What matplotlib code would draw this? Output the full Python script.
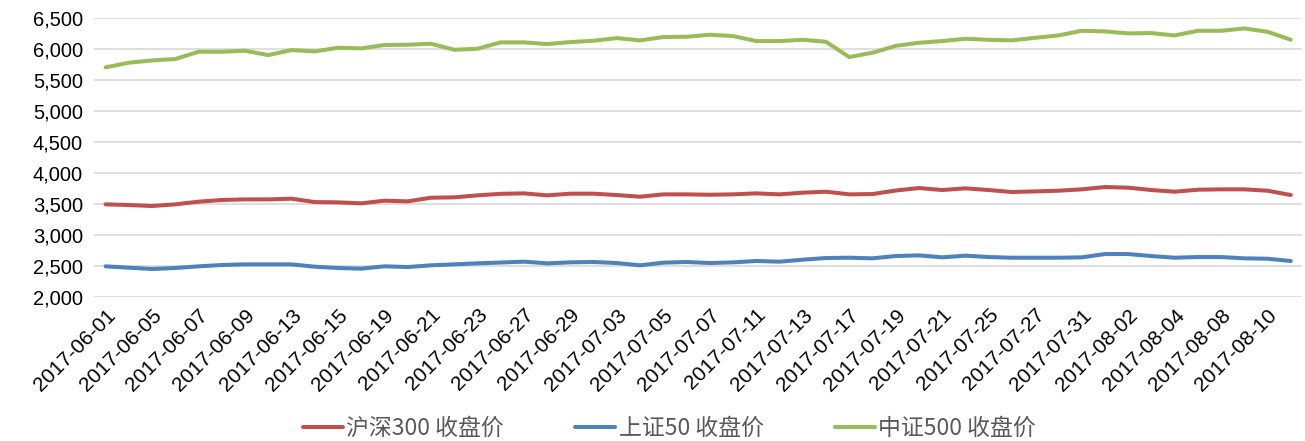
import matplotlib
matplotlib.use("Agg")
import matplotlib.pyplot as plt
import numpy as np

plt.rcParams["font.family"] = ["Liberation Sans", "Noto Sans CJK SC", "DejaVu Sans"]

# Trading days 2017-06-01 .. 2017-08-11
dates = [
    "2017-06-01", "2017-06-02", "2017-06-05", "2017-06-06", "2017-06-07", "2017-06-08",
    "2017-06-09", "2017-06-12", "2017-06-13", "2017-06-14", "2017-06-15", "2017-06-16",
    "2017-06-19", "2017-06-20", "2017-06-21", "2017-06-22", "2017-06-23", "2017-06-26",
    "2017-06-27", "2017-06-28", "2017-06-29", "2017-06-30", "2017-07-03", "2017-07-04",
    "2017-07-05", "2017-07-06", "2017-07-07", "2017-07-10", "2017-07-11", "2017-07-12",
    "2017-07-13", "2017-07-14", "2017-07-17", "2017-07-18", "2017-07-19", "2017-07-20",
    "2017-07-21", "2017-07-24", "2017-07-25", "2017-07-26", "2017-07-27", "2017-07-28",
    "2017-07-31", "2017-08-01", "2017-08-02", "2017-08-03", "2017-08-04", "2017-08-07",
    "2017-08-08", "2017-08-09", "2017-08-10", "2017-08-11",
]

hs300 = [
    3495, 3484, 3468, 3495, 3538, 3565, 3575, 3575, 3586, 3532, 3527, 3511,
    3554, 3543, 3602, 3608, 3640, 3665, 3672, 3640, 3667, 3667, 3645, 3618,
    3656, 3656, 3650, 3656, 3672, 3656, 3683, 3699, 3656, 3661, 3718, 3758,
    3726, 3753, 3726, 3694, 3704, 3715, 3737, 3774, 3764, 3726, 3699, 3731,
    3737, 3737, 3715, 3645,
]
sz50 = [
    2495, 2473, 2452, 2468, 2495, 2516, 2527, 2527, 2527, 2489, 2468, 2457,
    2495, 2484, 2511, 2527, 2543, 2556, 2570, 2543, 2559, 2565, 2548, 2511,
    2554, 2565, 2548, 2559, 2581, 2570, 2602, 2629, 2634, 2624, 2661, 2672,
    2640, 2667, 2645, 2634, 2634, 2634, 2640, 2693, 2693, 2661, 2634, 2645,
    2645, 2624, 2618, 2581,
]
zz500 = [
    5705, 5780, 5817, 5839, 5957, 5957, 5973, 5903, 5984, 5962, 6021, 6011,
    6065, 6070, 6086, 5989, 6005, 6108, 6108, 6081, 6113, 6134, 6177, 6140,
    6194, 6199, 6231, 6210, 6129, 6129, 6150, 6118, 5871, 5941, 6052, 6102,
    6129, 6166, 6150, 6140, 6182, 6220, 6295, 6285, 6253, 6258, 6220, 6295,
    6295, 6333, 6279, 6150,
]

series = [
    ("沪深300 收盘价", hs300, "#C0504D"),
    ("上证50 收盘价", sz50, "#4F81BD"),
    ("中证500 收盘价", zz500, "#9BBB59"),
]

fig = plt.figure(figsize=(13.05, 4.41), dpi=100)
ax = fig.add_axes([0.072, 0.3265, 0.926, 0.6325])

x = np.arange(len(dates))
for label, vals, color in series:
    ax.plot(x, vals, color=color, lw=2.9, label=label, solid_capstyle="round")

ax.set_xlim(-0.5, len(dates) - 0.5)
ax.set_ylim(2000, 6500)
ax.set_yticks(np.arange(2000, 6501, 500))
ax.set_yticklabels([f"{v:,}" for v in range(2000, 6501, 500)], fontsize=14.5)
ax.yaxis.grid(True, color="#d9d9d9", lw=1.2)
ax.set_axisbelow(True)

ax.set_xticks(x[::2])
ax.set_xticklabels(dates[::2], rotation=45, ha="right", rotation_mode="anchor", fontsize=15)

for s in ax.spines.values():
    s.set_visible(False)
ax.tick_params(axis="both", length=0, colors="black")
ax.tick_params(axis="x", pad=6)
ax.tick_params(axis="y", pad=8)

leg = fig.legend(loc="lower center", bbox_to_anchor=(0.513, -0.045), ncol=3, frameon=False,
                 handlelength=1.75, columnspacing=3.1, handletextpad=0.15,
                 prop={"family": ["Noto Sans CJK SC", "DejaVu Sans"], "size": 16.5})
for t in leg.get_texts():
    t.set_color("#595959")

fig.savefig("out.png", dpi=100)
